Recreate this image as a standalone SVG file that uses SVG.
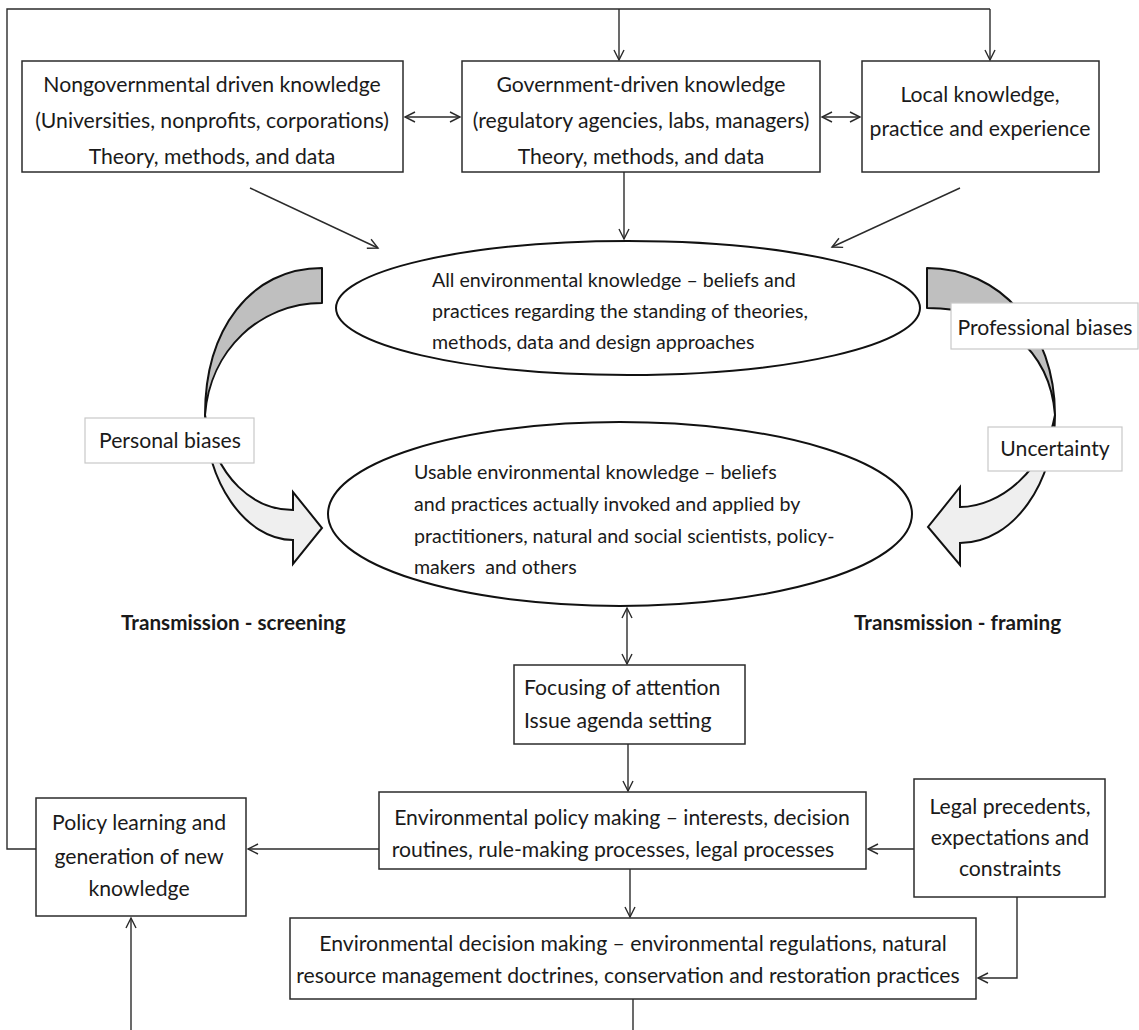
<svg xmlns="http://www.w3.org/2000/svg" width="1139" height="1030" viewBox="0 0 1139 1030">
  <style>
    .box { fill: #ffffff; stroke: #2b2b2b; stroke-width: 1.5; }
    .tag { fill: #ffffff; stroke: #c9c9c9; stroke-width: 1.2; }
    .oval { fill: #ffffff; stroke: #111111; stroke-width: 2; }
    .wire { fill: none; stroke: #2b2b2b; stroke-width: 1.4; }
    .back { fill: #bfbfbf; stroke: #111111; stroke-width: 2; stroke-linejoin: round; }
    .front { fill: #efefef; stroke: #111111; stroke-width: 2; stroke-linejoin: miter; }
    text { font-family: Lato, "Open Sans", "Liberation Sans", sans-serif; font-size: 21.2px; fill: #1a1a1a; }
    .c { text-anchor: middle; }
    .small { font-size: 19.6px; }
    .bold { font-weight: bold; font-size: 20.7px; }
  </style>
  <defs>
    <marker id="head" markerUnits="userSpaceOnUse" markerWidth="14" markerHeight="14" viewBox="-12 -7 14 14" refX="0" refY="0" orient="auto-start-reverse">
      <path d="M-10,-5 L0,0 L-10,5" fill="none" stroke="#2b2b2b" stroke-width="1.4"/>
    </marker>
  </defs>

  <!-- connectors -->
  <g id="connectors">
    <!-- feedback loop from policy learning back to the knowledge sources -->
    <polyline class="wire" points="36,849 7,849 7,9 990,9"/>
    <line class="wire" x1="619" y1="9" x2="619" y2="60" marker-end="url(#head)"/>
    <line class="wire" x1="990" y1="9" x2="990" y2="60" marker-end="url(#head)"/>
    <!-- exchanges between the source boxes -->
    <line class="wire" x1="405" y1="117" x2="460" y2="117" marker-start="url(#head)" marker-end="url(#head)"/>
    <line class="wire" x1="822" y1="117" x2="860" y2="117" marker-start="url(#head)" marker-end="url(#head)"/>
    <!-- sources into all environmental knowledge -->
    <line class="wire" x1="250" y1="188" x2="378" y2="248" marker-end="url(#head)"/>
    <line class="wire" x1="624" y1="172" x2="624" y2="239" marker-end="url(#head)"/>
    <line class="wire" x1="960" y1="188" x2="832" y2="247" marker-end="url(#head)"/>
    <!-- usable knowledge and agenda setting -->
    <line class="wire" x1="627" y1="608" x2="627" y2="664" marker-start="url(#head)" marker-end="url(#head)"/>
    <line class="wire" x1="628" y1="744" x2="628" y2="791" marker-end="url(#head)"/>
    <line class="wire" x1="630" y1="869" x2="630" y2="917" marker-end="url(#head)"/>
    <line class="wire" x1="379" y1="849" x2="248" y2="849" marker-end="url(#head)"/>
    <line class="wire" x1="914" y1="849" x2="868" y2="849" marker-end="url(#head)"/>
    <polyline class="wire" points="1017,897 1017,978 978,978" marker-end="url(#head)"/>
    <line class="wire" x1="633" y1="999" x2="633" y2="1030"/>
    <line class="wire" x1="131" y1="1030" x2="131" y2="918" marker-end="url(#head)"/>
  </g>

  <!-- curved transmission arrows -->
  <g id="screening-arrow">
    <path class="back" d="M322,268 C250,268 205,330 205,415 C210,350 260,303 322,303 Z"/>
    <path class="front" d="M205,415 C205,480 245,540 293,540 L293,564 L322,528 L293,492 L293,510 C255,510 215,480 205,415 Z"/>
  </g>
  <g id="framing-arrow">
    <path class="back" d="M927,268 C1000,268 1055,330 1055,415 C1050,350 1000,308 927,308 Z"/>
    <path class="front" d="M1055,415 C1055,480 1015,543 960,543 L960,565 L928,527 L960,487 L960,507 C1000,507 1045,470 1055,415 Z"/>
  </g>

  <g id="nongov">
    <rect class="box" x="22" y="61" width="381" height="111"/>
    <text class="c" x="212" y="92">Nongovernmental driven knowledge</text>
    <text class="c" x="212" y="128">(Universities, nonprofits, corporations)</text>
    <text class="c" x="212" y="164">Theory, methods, and data</text>
  </g>
  <g id="gov">
    <rect class="box" x="462" y="61" width="358" height="111"/>
    <text class="c" x="641" y="92">Government-driven knowledge</text>
    <text class="c" x="641" y="128">(regulatory agencies, labs, managers)</text>
    <text class="c" x="641" y="164">Theory, methods, and data</text>
  </g>
  <g id="local">
    <rect class="box" x="862" y="61" width="237" height="111"/>
    <text class="c" x="980" y="102">Local knowledge,</text>
    <text class="c" x="980" y="136">practice and experience</text>
  </g>

  <g id="all-knowledge">
    <ellipse class="oval" cx="628" cy="308" rx="292" ry="67"/>
    <text class="small" x="432" y="287">All environmental knowledge – beliefs and</text>
    <text class="small" x="432" y="318">practices regarding the standing of theories,</text>
    <text class="small" x="432" y="349">methods, data and design approaches</text>
  </g>
  <g id="usable-knowledge">
    <ellipse class="oval" cx="620" cy="514" rx="292" ry="92"/>
    <text class="small" x="414" y="479">Usable environmental knowledge – beliefs</text>
    <text class="small" x="414" y="511">and practices actually invoked and applied by</text>
    <text class="small" x="414" y="543">practitioners, natural and social scientists, policy-</text>
    <text class="small" x="414" y="574" xml:space="preserve">makers  and others</text>
  </g>

  <g id="personal-biases">
    <rect class="tag" x="85" y="418" width="169" height="45"/>
    <text class="c" x="170" y="448">Personal biases</text>
  </g>
  <g id="professional-biases">
    <rect class="tag" x="951" y="303" width="187" height="46"/>
    <text class="c" x="1045" y="335">Professional biases</text>
  </g>
  <g id="uncertainty">
    <rect class="tag" x="988" y="427" width="134" height="44"/>
    <text class="c" x="1055" y="456">Uncertainty</text>
  </g>

  <g id="screening-label">
    <text class="bold" x="121" y="630">Transmission - screening</text>
  </g>
  <g id="framing-label">
    <text class="bold" x="854" y="630">Transmission - framing</text>
  </g>

  <g id="agenda">
    <rect class="box" x="514" y="665" width="231" height="79"/>
    <text x="524" y="695">Focusing of attention</text>
    <text x="524" y="728">Issue agenda setting</text>
  </g>
  <g id="policy-making">
    <rect class="box" x="379" y="792" width="487" height="77"/>
    <text class="c" x="622" y="825">Environmental policy making – interests, decision</text>
    <text class="c" x="613" y="857">routines, rule-making processes, legal processes</text>
  </g>
  <g id="legal">
    <rect class="box" x="914" y="779" width="191" height="118"/>
    <text class="c" x="1010" y="814">Legal precedents,</text>
    <text class="c" x="1010" y="845">expectations and</text>
    <text class="c" x="1010" y="876">constraints</text>
  </g>
  <g id="policy-learning">
    <rect class="box" x="36" y="798" width="210" height="118"/>
    <text class="c" x="139" y="830">Policy learning and</text>
    <text class="c" x="139" y="864">generation of new</text>
    <text class="c" x="139" y="896">knowledge</text>
  </g>
  <g id="decision-making">
    <rect class="box" x="290" y="918" width="686" height="81"/>
    <text class="c" x="633" y="951">Environmental decision making – environmental regulations, natural</text>
    <text class="c" x="628" y="983">resource management doctrines, conservation and restoration practices</text>
  </g>
</svg>
